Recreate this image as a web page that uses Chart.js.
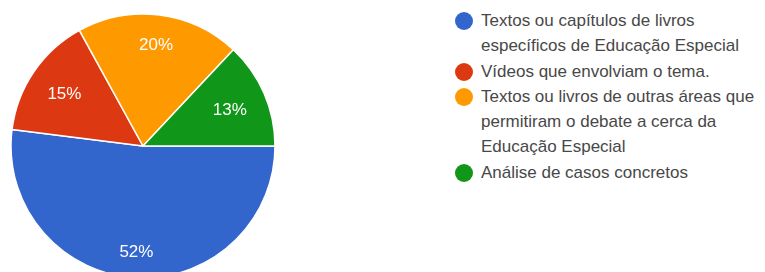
<!DOCTYPE html>
<html>
<head>
<meta charset="utf-8">
<script src="https://cdn.jsdelivr.net/npm/chart.js@4"></script>
<style>
  html, body { margin: 0; padding: 0; background: #fff; overflow: hidden; }
  #wrap { position: relative; width: 765px; height: 272px; }
  #pieBox { position: absolute; left: 0; top: 0; width: 286px; height: 272px; }
  #legend { position: absolute; left: 454px; top: 8px; font-family: "Liberation Sans", Arial, sans-serif;
            font-size: 17px; color: #484848; line-height: 25.3px; }
  .item { position: relative; padding-left: 27px; white-space: nowrap; }
  .dot { position: absolute; left: 1px; top: 4px; width: 18px; height: 18px; border-radius: 50%; }
</style>
</head>
<body>
<div id="wrap">
  <div id="pieBox"><canvas id="pie"></canvas></div>
  <div id="legend"></div>
</div>
<script>
const labels = [
  ["Textos ou capítulos de livros", "específicos de Educação Especial"],
  ["Vídeos que envolviam o tema."],
  ["Textos ou livros de outras áreas que", "permitiram o debate a cerca da", "Educação Especial"],
  ["Análise de casos concretos"]
];
const values = [52, 15, 20, 13];
const colors = ["#3366cc", "#dc3912", "#ff9900", "#109618"];

// legend built from the same arrays
let legend = document.getElementById("legend");
labels.forEach(function (lines, i) {
  let item = document.createElement("div");
  item.className = "item";
  let dot = document.createElement("span");
  dot.className = "dot";
  dot.style.background = colors[i];
  item.appendChild(dot);
  item.insertAdjacentHTML("beforeend", lines.join("<br>"));
  legend.appendChild(item);
});

// percentages placed so the text box sits a fixed distance inside the rim
const pctLabels = {
  id: "pctLabels",
  afterDatasetsDraw: function (chart) {
    let ctx = chart.ctx;
    let total = values.reduce(function (a, b) { return a + b; }, 0);
    ctx.save();
    ctx.fillStyle = "#fff";
    ctx.font = "17px 'Liberation Sans', Arial, sans-serif";
    ctx.textAlign = "center";
    ctx.textBaseline = "middle";
    chart.getDatasetMeta(0).data.forEach(function (arc, i) {
      let p = arc.getProps(["x", "y", "startAngle", "endAngle", "outerRadius"], true);
      let mid = (p.startAngle + p.endAngle) / 2;
      let txt = Math.round(values[i] / total * 100) + "%";
      let hw = ctx.measureText(txt).width / 2;
      let ext = hw * Math.abs(Math.cos(mid)) + 7 * Math.abs(Math.sin(mid));
      let r = p.outerRadius - 19 - ext;
      ctx.fillText(txt, p.x + Math.cos(mid) * r, p.y + Math.sin(mid) * r + 2);
    });
    ctx.restore();
  }
};

let chart = new Chart(document.getElementById("pie"), {
  type: "pie",
  data: {
    labels: labels.map(function (l) { return l.join(" "); }),
    datasets: [{
      data: values,
      backgroundColor: colors,
      borderColor: "#fff",
      borderWidth: 1.5
    }]
  },
  options: {
    responsive: true,
    maintainAspectRatio: false,
    animation: false,
    rotation: 90,
    radius: 132,
    layout: { padding: { top: 20 } },
    plugins: {
      legend: { display: false },
      tooltip: { enabled: false }
    }
  },
  plugins: [pctLabels]
});
</script>
</body>
</html>
